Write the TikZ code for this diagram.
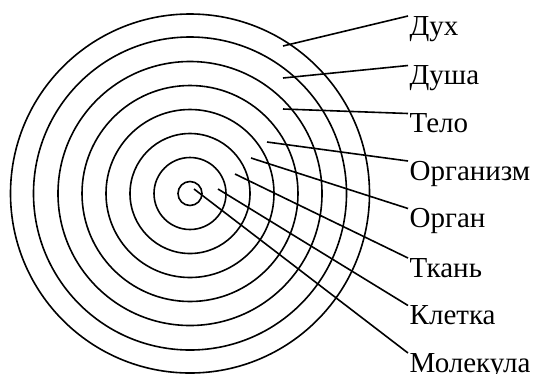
\documentclass[tikz,border=0pt]{standalone}
\usepackage{fontspec}
\setmainfont{Liberation Serif}

\begin{document}
\begin{tikzpicture}[
    x=1pt, y=-1pt,
    ring/.style={draw=black, line width=1.6pt},
    leader/.style={draw=black, line width=1.6pt},
    level/.style={anchor=north west, inner xsep=1.5pt, inner ysep=0pt, font=\fontsize{29}{30}\selectfont}
]
\useasboundingbox (0,0) rectangle (537,373);

% Rings
\coordinate (c) at (190,193.5);
\draw[ring] (c) circle[radius=12];
\draw[ring] (c) circle[radius=36];
\draw[ring] (c) circle[radius=60];
\draw[ring] (c) circle[radius=84];
\draw[ring] (c) circle[radius=108];
\draw[ring] (c) circle[radius=132];
\draw[ring] (c) circle[radius=156.5];
\draw[ring] (c) circle[radius=179.5];

% Start points inside the rings
\coordinate (sdukh) at (283,46);
\coordinate (sdusha) at (283,78);
\coordinate (stelo) at (283,109);
\coordinate (sorganizm) at (267,142);
\coordinate (sorgan) at (251,158);
\coordinate (stkan) at (235,174);
\coordinate (skletka) at (218,189);
\coordinate (smolekula) at (194,189);

% Labels
\node[level] (dukh) at (408,16) {Дух};
\node[level] (dusha) at (408,65.5) {Душа};
\node[level] (telo) at (408,113.5) {Тело};
\node[level] (organizm) at (408,161) {Организм};
\node[level] (organ) at (408,208.5) {Орган};
\node[level] (tkan) at (408,258) {Ткань};
\node[level] (kletka) at (408,305.5) {Клетка};
\node[level] (molekula) at (408,353) {Молекула};

% Leaders
\draw[leader] (sdukh) -- (dukh.north west);
\draw[leader] (sdusha) -- (dusha.north west);
\draw[leader] (stelo) -- (telo.north west);
\draw[leader] (sorganizm) -- (organizm.north west);
\draw[leader] (sorgan) -- (organ.north west);
\draw[leader] (stkan) -- (tkan.north west);
\draw[leader] (skletka) -- (kletka.north west);
\draw[leader] (smolekula) -- (molekula.north west);

\end{tikzpicture}
\end{document}
